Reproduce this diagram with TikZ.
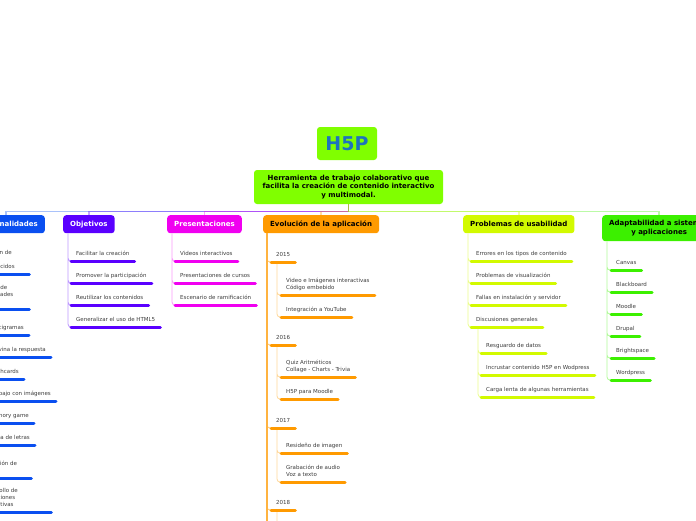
\documentclass[tikz,border=0pt]{standalone}
\usepackage{fontspec}
\setmainfont{DejaVu Sans}
\usetikzlibrary{positioning}

\definecolor{hlime}{HTML}{80FF00}
\definecolor{h5pblue}{HTML}{1E73BE}
\definecolor{func}{HTML}{0A4FF0}
\definecolor{obj}{HTML}{5A00FF}
\definecolor{pres}{HTML}{F000F0}
\definecolor{evo}{HTML}{FF9A00}
\definecolor{prob}{HTML}{D2FA00}
\definecolor{adap}{HTML}{3CF000}
\definecolor{txt}{HTML}{3C3C3C}

\begin{document}
\begin{tikzpicture}[x=1pt,y=-1pt,
  box/.style={rounded corners=3pt,minimum height=18pt,inner xsep=7pt,font=\fontsize{7}{8.5}\selectfont\bfseries},
  leaf/.style={inner xsep=5pt,inner ysep=5.3pt,text depth=0pt,align=left,text=txt,font=\fontsize{5.5}{7}\selectfont},
  link/.style={line width=1.4pt,opacity=.35},
  stem/.style={line width=.8pt,rounded corners=3pt},
  bar/.style={line width=3pt,line cap=round}]
  \clip (0,0) rectangle (696,520);

  % root and main idea
  \node[box,fill=hlime,minimum width=60pt,minimum height=33pt,text=h5pblue,
        font=\fontsize{19}{19}\selectfont\bfseries] (h5p) at (347,143.5) {H5P};
  \node[box,fill=hlime,minimum width=189pt,minimum height=34pt,align=center] (tool) at (348.5,187)
    {Herramienta de trabajo colaborativo que\\facilita la creación de contenido interactivo\\y multimodal.};

  % branches
  \node[box,fill=func,text=white,anchor=north east] (func) at (45,215) {Funcionalidades};
  \node[box,fill=obj,text=white,anchor=north west] (obj) at (63,215) {Objetivos};
  \node[box,fill=pres,text=white,anchor=north west] (pres) at (167,215) {Presentaciones};
  \node[box,fill=evo,anchor=north west] (evo) at (263,215) {Evolución de la aplicación};
  \node[box,fill=prob,anchor=north west] (prob) at (463,215) {Problemas de usabilidad};
  \node[box,fill=adap,anchor=north west,align=center,minimum height=26pt] (adap) at (602,215)
    {Adaptabilidad a sistemas\\y aplicaciones};

  \draw[link,func] (tool.south) -- ++(0,7) -| (func.north);
  \draw[link,obj] (tool.south) -- ++(0,7) -| (obj.north);
  \draw[link,pres] (tool.south) -- ++(0,7) -| (pres.north);
  \draw[link,evo] (tool.south) -- ++(0,7) -| (evo.north);
  \draw[link,adap] (tool.south) -- ++(0,7) -| (adap.north);
  \draw[link,prob] (tool.south) -- ++(0,7) -| (prob.north);

  % Funcionalidades
  \node[leaf,anchor=south west] (f1) at (-18,274) {\parbox[b]{37pt}{\raggedright Unión de\\[7pt]conocidos}};
  \node[leaf,anchor=south west] (f2) at (-17,309) {\parbox[b]{36pt}{\raggedright Red de\\unidades\\\mbox{}}};
  \node[leaf,anchor=south east] (f3) at (29,335) {Crucigramas};
  \node[leaf,anchor=south east] (f4) at (51,357) {Adivina la respuesta};
  \node[leaf,anchor=south east] (f5) at (24,379) {Flashcards};
  \node[leaf,anchor=south east] (f6) at (56,401) {Trabajo con imágenes};
  \node[leaf,anchor=south east] (f7) at (34,423) {Memory game};
  \node[leaf,anchor=south east] (f8) at (35,445) {Sopa de letras};
  \node[leaf,anchor=south west] (f9) at (-25,478) {\parbox[b]{46pt}{\raggedright Grabación de\\voz}};
  \node[leaf,anchor=south west] (f10) at (-24,512) {\parbox[b]{65pt}{\raggedright Desarrollo de\\aplicaciones\\interactivas}};
  \coordinate (fs) at ([xshift=5pt]func.south west);
  \draw[stem,func!40] (fs) |- (f1.south west) (fs) |- (f2.south west) (fs) |- (f3.south west)
    (fs) |- (f4.south west) (fs) |- (f5.south west) (fs) |- (f6.south west) (fs) |- (f7.south west)
    (fs) |- (f8.south west) (fs) |- (f9.south west) (fs) |- (f10.south west);
  \draw[bar,func] (f1.south west) -- (f1.south east) (f2.south west) -- (f2.south east)
    (f3.south west) -- (f3.south east) (f4.south west) -- (f4.south east)
    (f5.south west) -- (f5.south east) (f6.south west) -- (f6.south east)
    (f7.south west) -- (f7.south east) (f8.south west) -- (f8.south east)
    (f9.south west) -- (f9.south east) (f10.south west) -- (f10.south east);

  % Objetivos
  \node[leaf,anchor=south west] (o1) at (71,261) {Facilitar la creación};
  \node[leaf,anchor=south west] (o2) at (71,283) {Promover la participación};
  \node[leaf,anchor=south west] (o3) at (71,305) {Reutilizar los contenidos};
  \node[leaf,anchor=south west] (o4) at (71,327) {Generalizar el uso de HTML5};
  \coordinate (os) at ([xshift=5pt]obj.south west);
  \draw[stem,obj!40] (os) |- (o1.south west) (os) |- (o2.south west) (os) |- (o3.south west)
    (os) |- (o4.south west);
  \draw[bar,obj] (o1.south west) -- (o1.south east) (o2.south west) -- (o2.south east)
    (o3.south west) -- (o3.south east) (o4.south west) -- (o4.south east);

  % Presentaciones
  \node[leaf,anchor=south west] (r1) at (175,261) {Videos interactivos};
  \node[leaf,anchor=south west] (r2) at (175,283) {Presentaciones de cursos};
  \node[leaf,anchor=south west] (r3) at (175,305) {Escenario de ramificación};
  \coordinate (rs) at ([xshift=5pt]pres.south west);
  \draw[stem,pres!40] (rs) |- (r1.south west) (rs) |- (r2.south west) (rs) |- (r3.south west);
  \draw[bar,pres] (r1.south west) -- (r1.south east) (r2.south west) -- (r2.south east)
    (r3.south west) -- (r3.south east);

  % Evolucion de la aplicacion
  \node[leaf,anchor=south west] (y15) at (271,262) {2015};
  \node[leaf,anchor=south west] (y16) at (271,345) {2016};
  \node[leaf,anchor=south west] (y17) at (271,428) {2017};
  \node[leaf,anchor=south west] (y18) at (271,510) {2018};
  \node[leaf,anchor=south west] (v1) at (281,295) {Video e Imágenes interactivas\\Código embebido};
  \node[leaf,anchor=south west] (v2) at (281,317) {Integración a YouTube};
  \node[leaf,anchor=south west] (v3) at (281,377) {Quiz Aritméticos\\Collage - Charts - Trivia};
  \node[leaf,anchor=south west] (v4) at (281,399) {H5P para Moodle};
  \node[leaf,anchor=south west] (v5) at (281,453) {Resideño de imagen};
  \node[leaf,anchor=south west] (v6) at (281,482) {Grabación de audio\\Voz a texto};
  \coordinate (es) at ([xshift=4pt]evo.south west);
  \coordinate (ee) at (267,530);
  \coordinate (s15) at ([xshift=6pt]y15.south west);
  \coordinate (s16) at ([xshift=6pt]y16.south west);
  \coordinate (s17) at ([xshift=6pt]y17.south west);
  \coordinate (s18) at ([xshift=6pt]y18.south west);
  \coordinate (s18e) at (277,530);
  \draw[stem,evo!55] (es) |- (y15.south west) (es) |- (y16.south west) (es) |- (y17.south west)
    (es) |- (y18.south west);
  \draw[line width=2pt,evo!75] (es) -- (ee);
  \draw[stem,evo!40] (s15) |- (v1.south west) (s15) |- (v2.south west) (s16) |- (v3.south west)
    (s16) |- (v4.south west) (s17) |- (v5.south west) (s17) |- (v6.south west) (s18) -- (s18e);
  \draw[bar,evo] (y15.south west) -- (y15.south east) (y16.south west) -- (y16.south east)
    (y17.south west) -- (y17.south east) (y18.south west) -- (y18.south east)
    (v1.south west) -- (v1.south east) (v2.south west) -- (v2.south east)
    (v3.south west) -- (v3.south east) (v4.south west) -- (v4.south east)
    (v5.south west) -- (v5.south east) (v6.south west) -- (v6.south east);

  % Problemas de usabilidad
  \node[leaf,anchor=south west] (p1) at (471,261) {Errores en los tipos de contenido};
  \node[leaf,anchor=south west] (p2) at (471,283) {Problemas de visualización};
  \node[leaf,anchor=south west] (p3) at (471,305) {Fallas en instalación y servidor};
  \node[leaf,anchor=south west] (p4) at (471,327) {Discusiones generales};
  \node[leaf,anchor=south west] (d1) at (481,353) {Resguardo de datos};
  \node[leaf,anchor=south west] (d2) at (481,375) {Incrustar contenido H5P en Wodpress};
  \node[leaf,anchor=south west] (d3) at (481,397) {Carga lenta de algunas herramientas};
  \coordinate (ps) at ([xshift=5pt]prob.south west);
  \coordinate (ds) at ([xshift=7pt]p4.south west);
  \draw[stem,prob!45] (ps) |- (p1.south west) (ps) |- (p2.south west) (ps) |- (p3.south west)
    (ps) |- (p4.south west) (ds) |- (d1.south west) (ds) |- (d2.south west) (ds) |- (d3.south west);
  \draw[bar,prob] (p1.south west) -- (p1.south east) (p2.south west) -- (p2.south east)
    (p3.south west) -- (p3.south east) (p4.south west) -- (p4.south east)
    (d1.south west) -- (d1.south east) (d2.south west) -- (d2.south east)
    (d3.south west) -- (d3.south east);

  % Adaptabilidad
  \node[leaf,anchor=south west] (a1) at (611,270) {Canvas};
  \node[leaf,anchor=south west] (a2) at (611,292) {Blackboard};
  \node[leaf,anchor=south west] (a3) at (611,314) {Moodle};
  \node[leaf,anchor=south west] (a4) at (611,336) {Drupal};
  \node[leaf,anchor=south west] (a5) at (611,358) {Brightspace};
  \node[leaf,anchor=south west] (a6) at (611,380) {Wordpress};
  \coordinate (as) at ([xshift=5pt]adap.south west);
  \draw[stem,adap!40] (as) |- (a1.south west) (as) |- (a2.south west) (as) |- (a3.south west)
    (as) |- (a4.south west) (as) |- (a5.south west) (as) |- (a6.south west);
  \draw[bar,adap] (a1.south west) -- (a1.south east) (a2.south west) -- (a2.south east)
    (a3.south west) -- (a3.south east) (a4.south west) -- (a4.south east)
    (a5.south west) -- (a5.south east) (a6.south west) -- (a6.south east);
\end{tikzpicture}
\end{document}
